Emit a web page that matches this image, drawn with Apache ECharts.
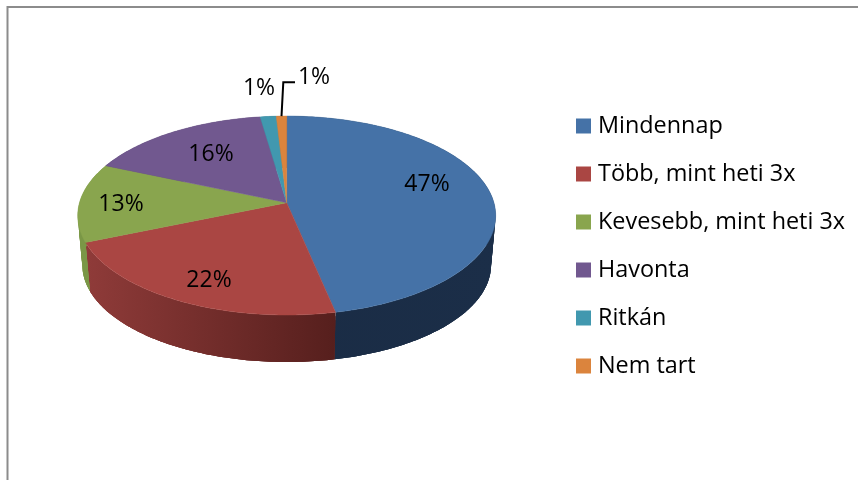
<!DOCTYPE html>
<html>
<head>
<meta charset="utf-8">
<title>Pie</title>
<style>
  html, body { margin: 0; padding: 0; background: #fff; }
  #chart { width: 858px; height: 480px; }
</style>
</head>
<body>
<div id="chart"></div>
<script src="https://cdn.jsdelivr.net/npm/echarts@6/dist/echarts.min.js"></script>
<script>
// adatok
const categories = ['Mindennap', 'Több, mint heti 3x', 'Kevesebb, mint heti 3x', 'Havonta', 'Ritkán', 'Nem tart']
const values = [46.7, 22, 12.8, 16.2, 1.4, 0.9]

// stilus
const topColors = ['#4572a7', '#aa4643', '#89a54e', '#71588f', '#4198af', '#db843d']
const sideColors = [
  ['#1a2c45', '#1b2e48'],
  ['#8f3b39', '#561f1d'],
  ['#7a9746', '#7a9746'],
  ['#4a3a5e', '#4a3a5e'],
  ['#2b6373', '#2b6373'],
  ['#8f5628', '#8f5628']
]
const labelAnchors = [[427, 184], [209, 280], [121, 204], [211, 154], [259, 88], [314, 77]]
const fontName = '"Open Sans"'

// a korlap perspektivaja
const pie = { cx: 286.7, cy: 202.7, a: 207.2, b: 97.8, k: 0.129, rimCy: 215.5, baseCy: 265, baseSx: 0.978, baseSy: 0.975 }
const sideBands = 12
const bandOverlap = 3

const total = values.reduce((s, v) => s + v, 0)

function project(phi, r) {
  const u = r * Math.sin(phi)
  const v = -r * Math.cos(phi)
  const w = 1 - pie.k * v
  return [pie.cx + pie.a * u / w, pie.cy + pie.b * v / w]
}

// az also perem kisebb es lapitottabb a felsonel, t=0 fent, t=1 lent
function toBase(p, t) {
  const bx = pie.cx + (p[0] - pie.cx) * pie.baseSx
  const by = pie.baseCy + (p[1] - pie.rimCy) * pie.baseSy
  return [p[0] + (bx - p[0]) * t, p[1] + (by - p[1]) * t]
}

function sliceRange(idx) {
  let start = 0
  for (let i = 0; i < idx; i++) start += values[i]
  return [start / total * Math.PI * 2, (start + values[idx]) / total * Math.PI * 2]
}

function renderSlice(params, api) {
  const idx = params.seriesIndex
  const [from, to] = sliceRange(idx)
  const steps = Math.max(2, Math.ceil((to - from) / (Math.PI / 180)))
  const rim = []
  for (let i = 0; i <= steps; i++) {
    rim.push(project(from + (to - from) * i / steps, 1))
  }
  const xs = rim.map(p => p[0])
  const sideFill = new echarts.graphic.LinearGradient(
    Math.min.apply(null, xs), 0, Math.max.apply(null, xs), 0,
    [{ offset: 0, color: sideColors[idx][0] }, { offset: 1, color: sideColors[idx][1] }],
    true
  )
  const children = []
  // egymasra csuszo savok, hogy a kontur a szeleken ne torjon be
  for (let b = 0; b < sideBands; b++) {
    const end = Math.min(sideBands, b + bandOverlap)
    const upper = rim.map(p => toBase(p, b / sideBands))
    const lower = rim.map(p => toBase(p, end / sideBands)).reverse()
    children.push({
      type: 'polygon',
      z2: 1,
      shape: { points: upper.concat(lower) },
      style: { fill: sideFill }
    })
  }
  children.push({
    type: 'polygon',
    z2: 10,
    shape: { points: [[pie.cx, pie.cy]].concat(rim) },
    style: { fill: topColors[idx], stroke: topColors[idx], lineWidth: 0.5 }
  })
  children.push({
    type: 'text',
    z2: 20,
    style: {
      x: labelAnchors[idx][0],
      y: labelAnchors[idx][1],
      text: Math.round(values[idx]) + '%',
      fill: '#000',
      font: '23px ' + fontName,
      align: 'center',
      verticalAlign: 'middle'
    }
  })
  // vezetovonal a legkisebb szelethez
  if (idx === values.length - 1) {
    const start = project((from + to) / 2, 1)
    children.push({
      type: 'polyline',
      z2: 20,
      shape: { points: [start, [283.3, 82.3], [295, 82.3]] },
      style: { fill: 'none', stroke: '#000', lineWidth: 2 }
    })
  }
  return { type: 'group', children: children }
}

const chart = echarts.init(document.getElementById('chart'))
chart.setOption({
  animation: false,
  backgroundColor: '#fff',
  tooltip: { show: false },
  legend: {
    orient: 'vertical',
    left: 571,
    top: 109,
    itemWidth: 15,
    itemHeight: 15,
    itemGap: 24,
    icon: 'rect',
    data: categories,
    textStyle: {
      fontFamily: 'Open Sans',
      fontSize: 23.4,
      lineHeight: 24,
      color: '#000',
      padding: [0, 0, 0, 2]
    }
  },
  graphic: [
    { type: 'line', shape: { x1: 7.5, y1: 7, x2: 858, y2: 7 }, style: { stroke: '#8c8c8c', lineWidth: 2 } },
    { type: 'line', shape: { x1: 7.5, y1: 6, x2: 7.5, y2: 480 }, style: { stroke: '#8c8c8c', lineWidth: 2 } }
  ],
  series: categories.map((name, i) => ({
    type: 'custom',
    name: name,
    coordinateSystem: 'none',
    silent: true,
    itemStyle: { color: topColors[i] },
    data: [[values[i]]],
    renderItem: renderSlice
  }))
})
</script>
</body>
</html>
